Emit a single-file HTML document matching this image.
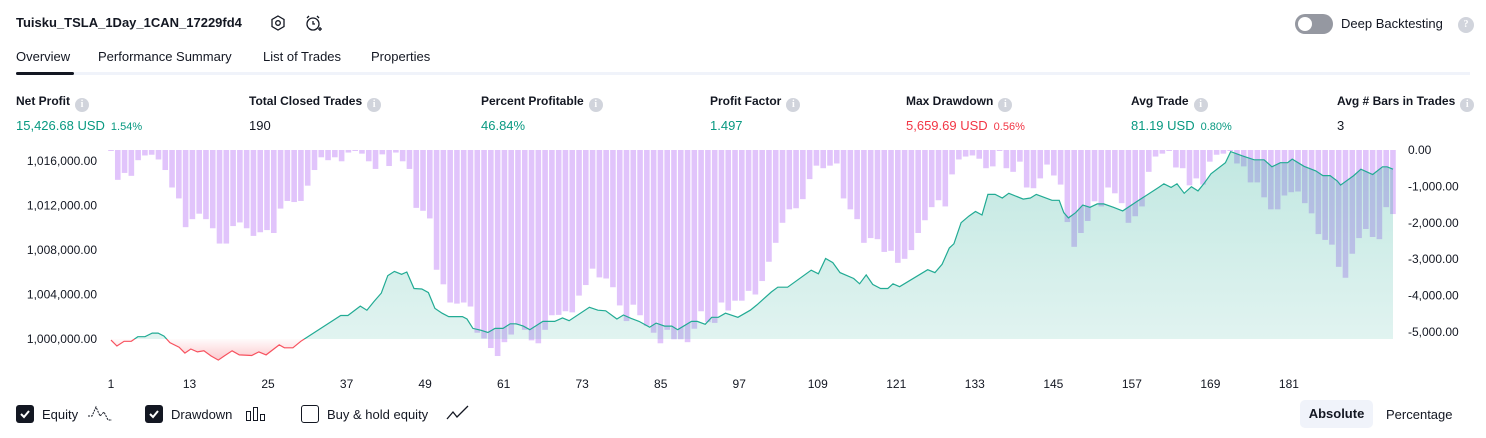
<!DOCTYPE html>
<html><head><meta charset="utf-8">
<style>
*{box-sizing:border-box;margin:0;padding:0}
body{width:1486px;height:438px;background:#fff;font-family:"Liberation Sans",sans-serif;color:#131722;position:relative;overflow:hidden}
.a{position:absolute;white-space:nowrap}
.lbl{font-size:12px;font-weight:bold;color:#131722}
.val{font-size:13px}
.pct{font-size:11px;margin-left:6px}
.g{color:#089981}.r{color:#f23645}
.info{display:inline-block;width:14px;height:14px;border-radius:50%;background:#d1d4dc;color:#fff;font-size:10px;text-align:center;line-height:14px;font-weight:bold;margin-left:5px;vertical-align:-2px;font-family:"Liberation Serif",serif}
.tab{font-size:13px;top:49px}
.cb{width:18px;height:18px;border-radius:3px;top:405px}
</style></head><body>
<div class="a" style="left:16px;top:15px;font-size:13px;font-weight:bold">Tuisku_TSLA_1Day_1CAN_17229fd4</div>
<svg class="a" style="left:269px;top:14px" width="18" height="18"><polygon points="9,2 15,5.5 15,12.5 9,16 3,12.5 3,5.5" fill="none" stroke="#131722" stroke-width="1.3"/><circle cx="9" cy="9" r="2.3" fill="none" stroke="#131722" stroke-width="1.3"/></svg>
<svg class="a" style="left:303px;top:13px" width="20" height="20"><circle cx="10" cy="11" r="6" fill="none" stroke="#131722" stroke-width="1.3"/><path d="M10 8v3h2M4 5l2-2M16 5l-2-2M15 16h4M17 14v4" stroke="#131722" stroke-width="1.3" fill="none"/></svg>
<div class="a" style="left:1295px;top:14px;width:38px;height:20px;border-radius:10px;background:#9598a1"><div style="position:absolute;left:3px;top:3px;width:14px;height:14px;border-radius:50%;background:#fff"></div></div>
<div class="a" style="left:1341px;top:16px;font-size:13px">Deep Backtesting</div>
<div class="a info" style="left:1453px;top:17px;width:16px;height:16px;line-height:16px">?</div>

<div class="a tab" style="left:16px">Overview</div>
<div class="a tab" style="left:98px">Performance Summary</div>
<div class="a tab" style="left:263px">List of Trades</div>
<div class="a tab" style="left:371px">Properties</div>
<div class="a" style="left:16px;top:72px;width:1454px;height:3px;background:#f0f3fa"></div>
<div class="a" style="left:16px;top:72px;width:58px;height:3px;background:#131722;border-radius:2px"></div>

<div class="a" style="left:16px;top:94px"><div class="lbl">Net Profit<span class="info">i</span></div><div class="val g" style="margin-top:6px">15,426.68 USD<span class="pct">1.54%</span></div></div>
<div class="a" style="left:249px;top:94px"><div class="lbl">Total Closed Trades<span class="info">i</span></div><div class="val" style="margin-top:6px">190</div></div>
<div class="a" style="left:481px;top:94px"><div class="lbl">Percent Profitable<span class="info">i</span></div><div class="val g" style="margin-top:6px">46.84%</div></div>
<div class="a" style="left:710px;top:94px"><div class="lbl">Profit Factor<span class="info">i</span></div><div class="val g" style="margin-top:6px">1.497</div></div>
<div class="a" style="left:906px;top:94px"><div class="lbl">Max Drawdown<span class="info">i</span></div><div class="val r" style="margin-top:6px">5,659.69 USD<span class="pct">0.56%</span></div></div>
<div class="a" style="left:1131px;top:94px"><div class="lbl">Avg Trade<span class="info">i</span></div><div class="val g" style="margin-top:6px">81.19 USD<span class="pct">0.80%</span></div></div>
<div class="a" style="left:1337px;top:94px"><div class="lbl">Avg # Bars in Trades<span class="info">i</span></div><div class="val" style="margin-top:6px">3</div></div>

<svg id="chart" class="a" style="left:0;top:140px" width="1486" height="255"></svg>

<div class="a cb" style="left:16px;background:#131722"><svg width="18" height="18"><path d="M5 9l3 3 5-6" stroke="#fff" stroke-width="2" fill="none"/></svg></div>
<div class="a" style="left:42px;top:407px;font-size:13px">Equity</div>
<svg class="a" style="left:87px;top:404px" width="26" height="18"><path d="M1 12h4l4-9 4 9 4-4 4 8h4" stroke="#131722" fill="none" stroke-dasharray="2 1"/></svg>
<div class="a cb" style="left:145px;background:#131722"><svg width="18" height="18"><path d="M5 9l3 3 5-6" stroke="#fff" stroke-width="2" fill="none"/></svg></div>
<div class="a" style="left:171px;top:407px;font-size:13px">Drawdown</div>
<svg class="a" style="left:245px;top:405px" width="22" height="18"><rect x="1.5" y="6.5" width="4" height="9" fill="none" stroke="#131722"/><rect x="8.5" y="2.5" width="4" height="13" fill="none" stroke="#131722"/><rect x="15.5" y="9.5" width="4" height="6" fill="none" stroke="#131722"/></svg>
<div class="a cb" style="left:301px;border:1.5px solid #131722"></div>
<div class="a" style="left:327px;top:407px;font-size:13px">Buy &amp; hold equity</div>
<svg class="a" style="left:446px;top:404px" width="24" height="18"><path d="M1 15l6-7 4 5 11-11" stroke="#131722" stroke-width="1.3" fill="none"/></svg>
<div class="a" style="left:1300px;top:400px;width:73px;height:28px;background:#f0f3fa;border-radius:5px;font-size:13px;font-weight:bold;text-align:center;line-height:28px">Absolute</div>
<div class="a" style="left:1386px;top:407px;font-size:13px">Percentage</div>

<script>
const ddValues=[0,-820,-630,-710,-280,-150,-130,-260,-550,-1030,-1330,-2120,-1900,-1750,-1900,-2150,-2570,-2570,-2090,-1990,-2150,-2360,-2260,-2200,-2280,-1610,-1400,-1430,-1400,-980,-550,-200,-280,-200,-310,-70,-20,-100,-310,-520,-120,-440,-70,-310,-520,-1590,-1670,-1880,-3290,-3690,-4190,-4220,-4190,-4300,-5020,-5180,-5440,-5660,-5280,-5070,-4800,-4940,-5230,-5310,-4940,-4540,-4530,-4430,-4460,-4000,-3710,-3260,-3500,-3530,-3770,-4270,-4700,-4250,-4540,-4830,-5020,-5310,-4940,-5200,-5200,-5280,-4910,-4430,-4730,-4750,-4190,-4410,-4140,-4140,-3870,
-3970,-3600,-3070,-2550,-2000,-1630,-1600,-1350,-800,-430,-500,-430,-370,-1330,-1630,-1900,-2550,-2420,-2450,-2800,-2770,-3100,-2990,-2750,-2280,-1930,-1570,-1380,-1550,-670,-260,-180,-150,-240,-500,-450,0,-500,-600,-320,-1030,-1050,-780,-400,-700,-950,-1980,-2660,-2280,-1950,-1410,-1550,-1030,-1190,-1460,-2000,-1820,-1550,-600,-180,-100,0,-480,-500,-970,-780,-950,-320,-130,-100,0,-370,-450,-890,-890,-1300,-1630,-1630,-1250,-1160,-1140,-1460,-1740,-2310,-2470,-2600,-3210,-3510,-2850,-2420,-2170,-2390,-2450,-1570,-1760];
const eqTrade=[1,1.9,3,4.1,5.1,6.2,7.3,8.2,9.1,10,11.4,12.3,13.2,14.2,15.2,16.3,17.4,18.3,19.5,20.6,22.5,23.6,24.7,26.7,27.5,28.8,30,36.1,37.2,39.1,40.1,41.2,42.3,43.3,44.3,45.4,46.2,47.3,48.5,49.5,50.5,51.6,52.6,54.7,55.4,56.3,57.5,58.6,59.7,60.9,62,62.9,64,65,67,68.8,70,71,74.1,75.4,76.6,78.3,79.3,80.5,81.7,83.3,84.3,85.6,86.7,87.6,89.7,90.6,91.8,92.8,93.8,94.9,96.8,98.7,
99.7,101.9,102.9,104.4,108,109.1,110.2,111.3,112.4,114.5,115.4,116.4,117.4,118.6,119.7,120.5,121.5,125.8,126.9,128,129.1,129.8,130.9,132.1,133.1,134.1,135,136.1,137.2,138.2,140.4,141.5,142.4,144.8,145.9,146.6,147.3,148.4,149.5,150.6,151.7,152.7,154.2,155.6,157.9,161.1,161.9,163,163.9,165,166.1,167.1,168,169.1,171.3,172.1,173.8,175.7,177.2,178.4,179.7,180.8,181.5,183.3,185.1,186.2,187.3,188.4,188.9,190.9,192,193.8,195.3,196,196.9];
const eqProfit=[-0.1,-0.63,-0.21,-0.21,0.21,0.21,0.53,0.53,0.26,-0.32,-0.74,-1.27,-0.9,-1.16,-1.06,-1.53,-1.9,-1.53,-1.06,-1.43,-1.48,-1.16,-1.43,-0.53,-0.79,-0.79,-0.21,2.11,2.11,2.96,2.59,3.38,4.12,5.7,6.07,5.81,6.02,4.54,4.49,4.17,2.75,2.32,2.01,2.01,1.8,0.95,0.79,0.58,0.95,0.95,1.37,1.37,1.16,0.84,1.58,1.58,1.9,1.64,2.85,2.59,2.53,1.8,2.16,1.85,1.58,1.06,1.43,1.16,1.16,0.84,1.58,1.58,1.32,1.95,1.95,2.32,1.95,2.59,
3.06,4.22,4.65,4.65,6.18,5.86,7.23,6.86,5.97,5.44,4.96,5.76,4.91,4.54,4.54,4.96,4.7,6.23,5.97,6.71,8.18,8.55,10.45,11.04,11.46,11.14,12.99,12.99,12.67,13.09,12.57,12.67,12.99,12.46,12.46,11.35,10.88,11.35,12.04,11.83,12.14,12.14,11.83,11.51,12.41,13.62,13.94,13.62,13.94,13.09,13.68,13.31,13.94,14.84,15.84,16.84,16.47,16.1,16.1,15.47,15.84,15.84,16.16,15.52,15.1,14.68,14.68,14.2,13.83,14.68,15.26,14.78,15.47,15.47,15.26];
const xTicks=[1,13,25,37,49,61,73,85,97,109,121,133,145,157,169,181];
const leftTicks=[1000000,1004000,1008000,1012000,1016000];
const rightTicks=[0,-1000,-2000,-3000,-4000,-5000];
const BASE=1000000;

const svg=document.getElementById('chart');
const NS='http://www.w3.org/2000/svg';
const OY=140;
const X=t=>111+(t-1)*6.544;
const YL=v=>339-OY-((v-BASE)/1000)*11.13;
const YE=k=>339-OY-k*11.13;
const YR=d=>150-OY-(d/1000)*36.4;
function mk(tag,attrs){const e=document.createElementNS(NS,tag);for(const k in attrs)e.setAttribute(k,attrs[k]);svg.appendChild(e);return e;}

const defs=mk('defs',{});
defs.innerHTML='<linearGradient id="gg" x1="0" y1="0" x2="0" y2="1"><stop offset="0" stop-color="#22ab94" stop-opacity="0.28"/><stop offset="1" stop-color="#22ab94" stop-opacity="0.12"/></linearGradient><linearGradient id="rg" gradientUnits="userSpaceOnUse" x1="0" y1="'+YE(0)+'" x2="0" y2="'+YE(-2)+'"><stop offset="0" stop-color="#f23645" stop-opacity="0.02"/><stop offset="1" stop-color="#f23645" stop-opacity="0.28"/></linearGradient><clipPath id="above"><rect x="0" y="0" width="1486" height="'+YE(0)+'"/></clipPath><clipPath id="below"><rect x="0" y="'+YE(0)+'" width="1486" height="100"/></clipPath>';

const n=ddValues.length;
const span=eqTrade[eqTrade.length-1]-1;
ddValues.forEach((d,i)=>{
  const t=1+i*span/(n-1);
  const y0=YR(0), y1=YR(d);
  const b=mk('rect',{x:X(t)-2.8,y:y0,width:5.6,height:Math.max(1,y1-y0),fill:'#e1c4fb'});
  
  
});

let pts=eqTrade.map((t,i)=>X(t).toFixed(1)+','+YE(eqProfit[i]).toFixed(1));
const first=X(eqTrade[0]).toFixed(1), last=X(eqTrade[eqTrade.length-1]).toFixed(1);
const areaD='M'+first+','+YE(0)+' L'+pts.join(' L')+' L'+last+','+YE(0)+'Z';
const lineD='M'+pts.join(' L');
const ag=mk('path',{d:areaD,fill:'url(#gg)','clip-path':'url(#above)'});


const ar=mk('path',{d:areaD,fill:'url(#rg)','clip-path':'url(#below)'});


const lg=mk('path',{d:lineD,fill:'none',stroke:'#22ab94','stroke-width':1.2,'clip-path':'url(#above)'});


const lr=mk('path',{d:lineD,fill:'none',stroke:'#f7525f','stroke-width':1.2,'clip-path':'url(#below)'});



leftTicks.forEach(v=>{
  const t=mk('text',{x:97,y:YL(v)+4,'text-anchor':'end','font-size':12,fill:'#131722','font-family':'Liberation Sans, sans-serif'});
  t.textContent=v.toLocaleString('en-US',{minimumFractionDigits:2});
  
  
});
rightTicks.forEach(v=>{
  const t=mk('text',{x:1408,y:YR(v)+4,'font-size':12,fill:'#131722','font-family':'Liberation Sans, sans-serif'});
  t.textContent=v.toLocaleString('en-US',{minimumFractionDigits:2});
  
  
});
xTicks.forEach(v=>{
  const t=mk('text',{x:X(v),y:248,'text-anchor':'middle','font-size':12,fill:'#131722','font-family':'Liberation Sans, sans-serif'});
  t.textContent=v;
  
  
});
</script>
</body></html>
